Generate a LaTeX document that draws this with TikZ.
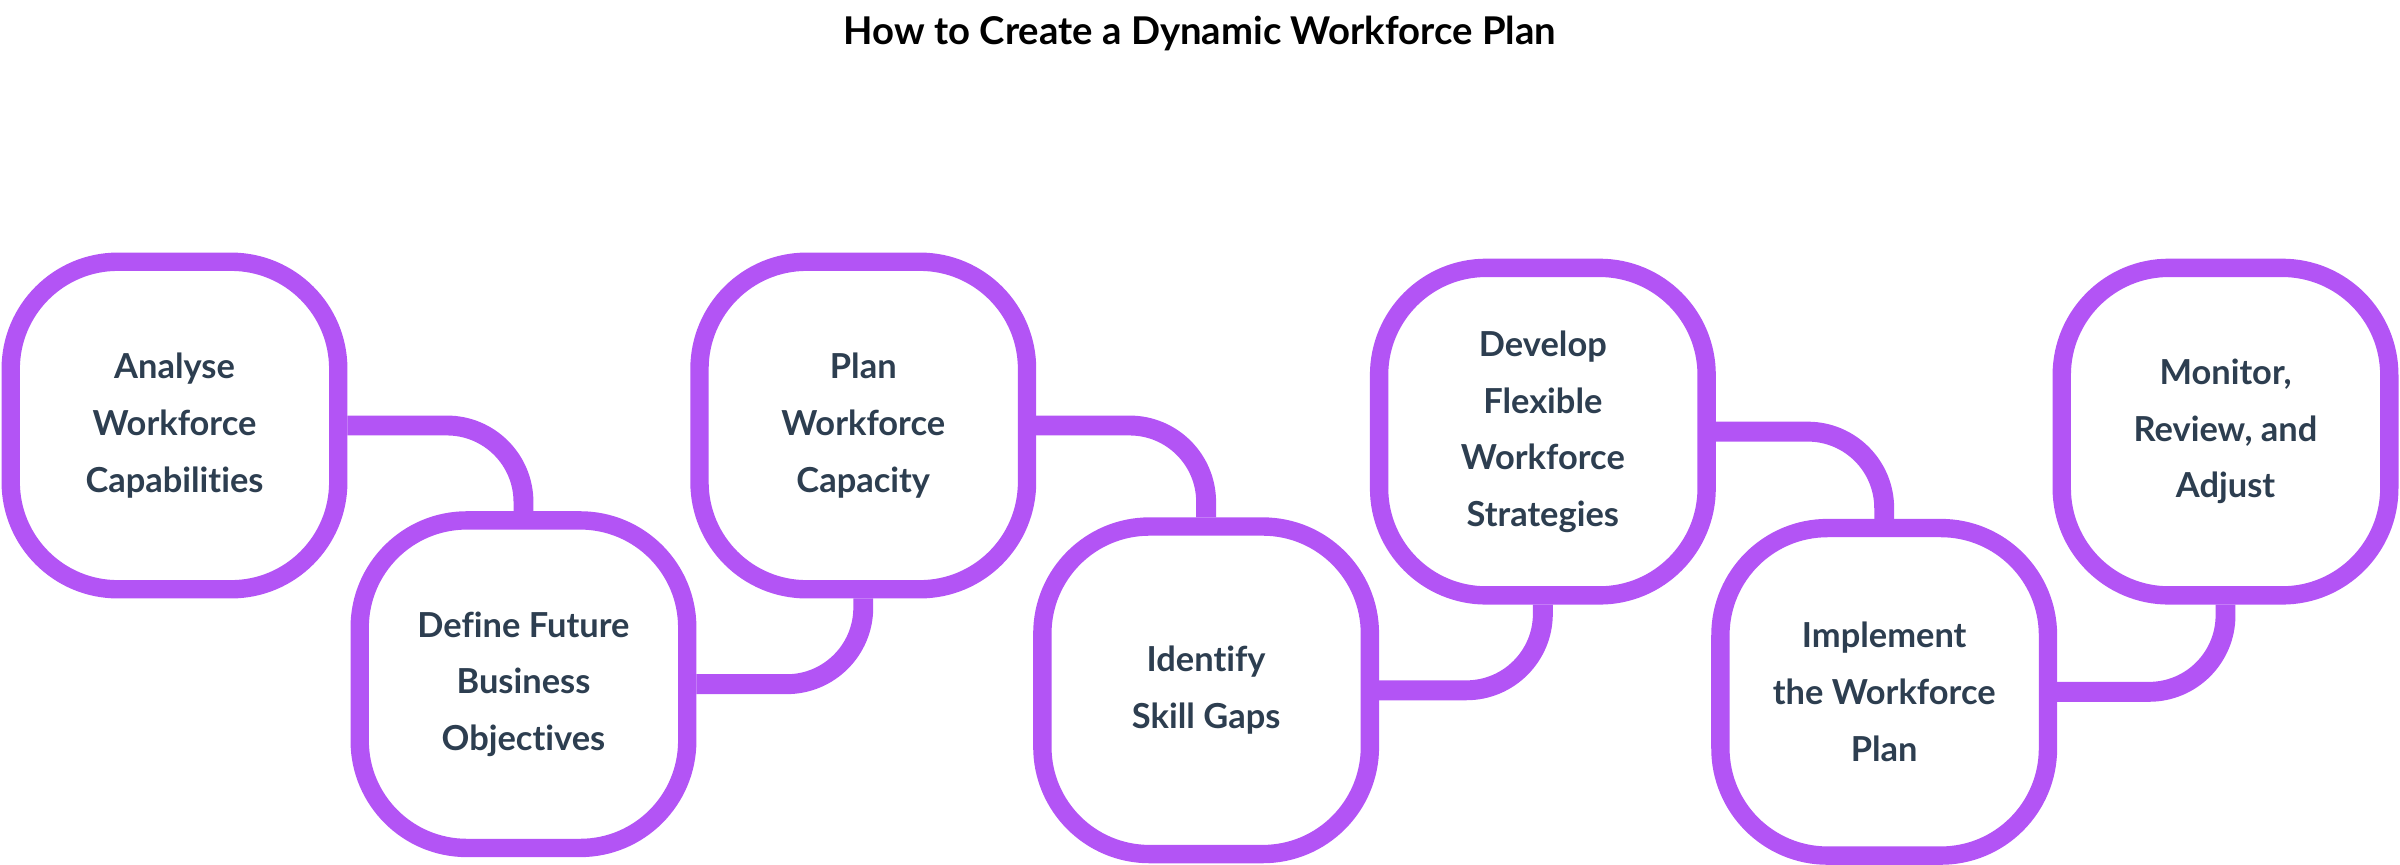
\documentclass[tikz,border=0pt]{standalone}
\usepackage{fontspec}
\setmainfont{Lato}[Ligatures={NoCommon,NoRare,NoDiscretionary}]
\begin{document}
\begin{tikzpicture}[x=1pt,y=1pt,
  stepbox/.style={rectangle,minimum size=214pt,rounded corners=70pt,draw=boxc,line width=12pt,fill=white,
    align=center,text=txt,font=\fontsize{22.5}{37}\selectfont\bfseries,inner sep=0pt},
  conn/.style={line width=13pt,draw=boxc,rounded corners=50pt}]
\definecolor{boxc}{HTML}{B354F5}
\definecolor{txt}{HTML}{2D3E50}
\useasboundingbox (0,0) rectangle (1568,565);
\node[font=\fontsize{25}{30}\selectfont\bfseries] (title) at (784,543) {How to Create a Dynamic Workforce Plan};
\coordinate (p1) at (114,287);
\coordinate (p2) at (342,118);
\coordinate (p3) at (564,287);
\coordinate (p4) at (788,114);
\coordinate (p5) at (1008,283);
\coordinate (p6) at (1231,113);
\coordinate (p7) at (1454,283);
\node[stepbox,draw=none,fill=none] (b1) at (p1) {};
\node[stepbox,draw=none,fill=none] (b2) at (p2) {};
\node[stepbox,draw=none,fill=none] (b3) at (p3) {};
\node[stepbox,draw=none,fill=none] (b4) at (p4) {};
\node[stepbox,draw=none,fill=none] (b5) at (p5) {};
\node[stepbox,draw=none,fill=none] (b6) at (p6) {};
\node[stepbox,draw=none,fill=none] (b7) at (p7) {};
\draw[conn] (b1.east) -| (b2.north);
\draw[conn] (b2.east) -| (b3.south);
\draw[conn] (b3.east) -| (b4.north);
\draw[conn] (b4.east) -| (b5.south);
\draw[conn] (b5.east) -| (b6.north);
\draw[conn] (b6.east) -| (b7.south);
\node[stepbox] (t1) at (p1) {Analyse\\Workforce\\Capabilities};
\node[stepbox] (t2) at (p2) {Define Future\\Business\\Objectives};
\node[stepbox] (t3) at (p3) {Plan\\Workforce\\Capacity};
\node[stepbox] (t4) at (p4) {Identify\\Skill Gaps};
\node[stepbox] (t5) at (p5) {Develop\\Flexible\\Workforce\\Strategies};
\node[stepbox] (t6) at (p6) {Implement\\the Workforce\\Plan};
\node[stepbox] (t7) at (p7) {Monitor,\\Review, and\\Adjust};
\end{tikzpicture}
\end{document}
